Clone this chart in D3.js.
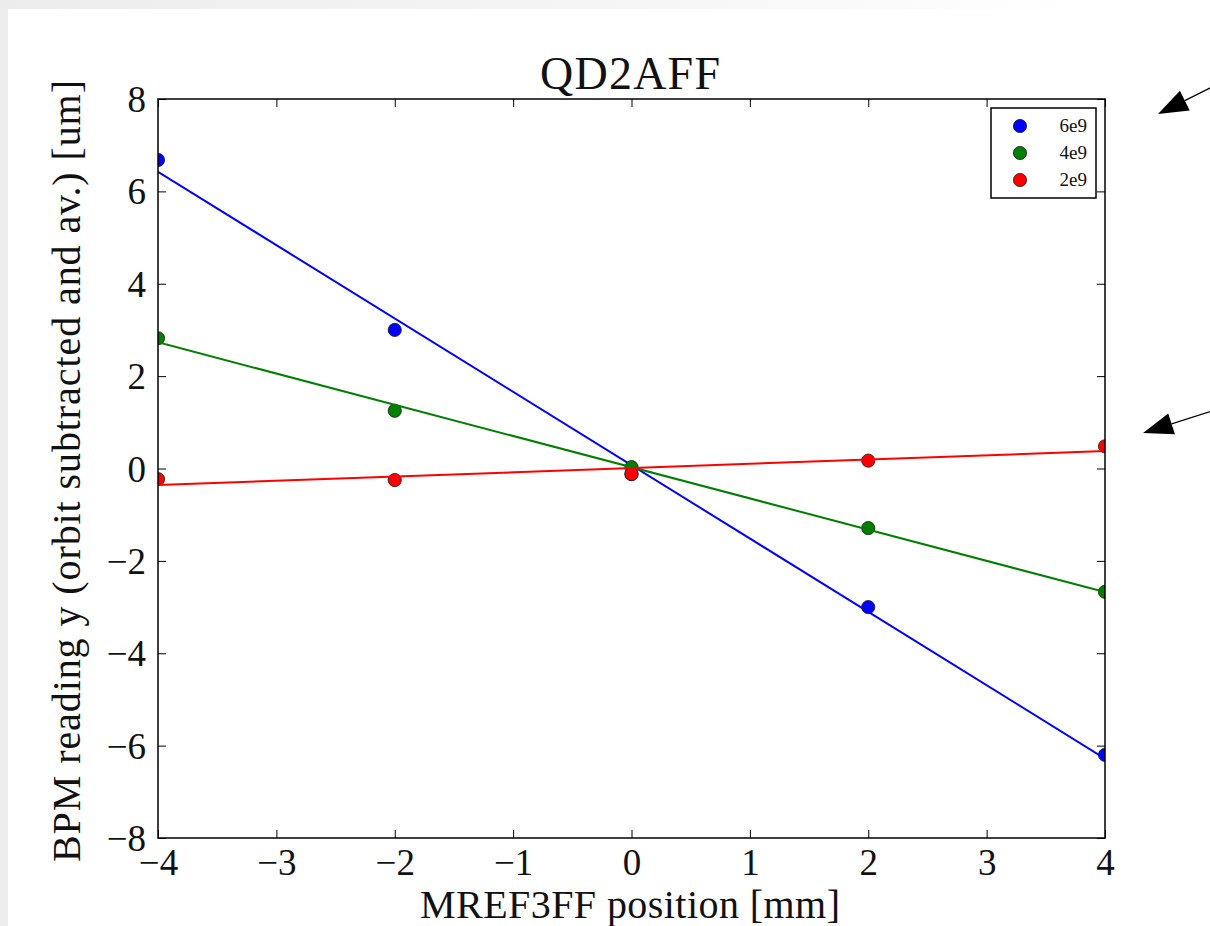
<!DOCTYPE html>
<html>
<head>
<meta charset="utf-8">
<script src="https://cdn.jsdelivr.net/npm/d3@7"></script>
<style>
  html, body { margin: 0; padding: 0; background: #ededed; }
  svg { display: block; }
  text { font-family: "Liberation Serif", "DejaVu Serif", serif; fill: #111; }
</style>
</head>
<body>
<svg id="chart" width="1210" height="926"></svg>
<script>
// Scan positions of the corrector magnet [mm]
const positions = [-4, -2, 0, 2, 4];
// BPM y reading per bunch charge [um]
const series6e9 = [6.68, 3.0, -0.12, -3.0, -6.2];
const series4e9 = [2.82, 1.25, 0.03, -1.29, -2.67];
const series2e9 = [-0.23, -0.25, -0.12, 0.17, 0.48];
const seriesNames = ["6e9", "4e9", "2e9"];
const seriesColors = ["#0000ff", "#007f00", "#ff0000"];
const xTicks = [-4, -3, -2, -1, 0, 1, 2, 3, 4];
const yTicks = [-8, -6, -4, -2, 0, 2, 4, 6, 8];

const svg = d3.select("#chart");
const W = 1210, H = 926;
const M = { left: 158, right: 1105, top: 99, bottom: 838 };

// page panel with a soft grey margin
const defs = svg.append("defs");
const grad = defs.append("linearGradient").attr("id", "topfade").attr("x1", 0).attr("x2", 1).attr("y1", 0).attr("y2", 0);
grad.append("stop").attr("offset", "0%").attr("stop-color", "#ececec");
grad.append("stop").attr("offset", "55%").attr("stop-color", "#f6f6f6");
grad.append("stop").attr("offset", "90%").attr("stop-color", "#ffffff");
svg.append("rect").attr("x", 0).attr("y", 0).attr("width", W).attr("height", 9).attr("fill", "url(#topfade)");
svg.append("rect").attr("x", 8).attr("y", 9).attr("width", W - 8).attr("height", H - 9).attr("fill", "#fff");

const x = d3.scaleLinear().domain([-4, 4]).range([M.left, M.right]);
const y = d3.scaleLinear().domain([-8, 8]).range([M.bottom, M.top]);

defs.append("clipPath").attr("id", "plotclip")
  .append("rect").attr("x", M.left).attr("y", M.top)
  .attr("width", M.right - M.left).attr("height", M.bottom - M.top);

// least-squares line through each series
function fit(ys) {
  const n = positions.length;
  const mx = d3.mean(positions), my = d3.mean(ys);
  let sxy = 0, sxx = 0;
  for (let i = 0; i < n; i++) {
    sxy += (positions[i] - mx) * (ys[i] - my);
    sxx += (positions[i] - mx) ** 2;
  }
  const b = sxy / sxx;
  return { slope: b, intercept: my - b * mx };
}

const plot = svg.append("g").attr("clip-path", "url(#plotclip)");
const allSeries = [series6e9, series4e9, series2e9];
allSeries.forEach((ys, k) => {
  const col = seriesColors[k];
  const pts = positions.map((p, i) => ({ x: p, y: ys[i] }));
  plot.append("g").selectAll("circle").data(pts).enter().append("circle")
    .attr("cx", d => x(d.x)).attr("cy", d => y(d.y)).attr("r", 6.6)
    .attr("fill", col).attr("stroke", "#1a1a1a").attr("stroke-width", 0.8);
  const f = fit(ys);
  const line = d3.line().x(d => x(d)).y(d => y(f.intercept + f.slope * d));
  plot.append("path").datum([-4, 4]).attr("d", line)
    .attr("fill", "none").attr("stroke", col).attr("stroke-width", 2);
});

// frame
svg.append("rect").attr("x", M.left).attr("y", M.top)
  .attr("width", M.right - M.left).attr("height", M.bottom - M.top)
  .attr("fill", "none").attr("stroke", "#000").attr("stroke-width", 1.5);

const fmt = d => (d < 0 ? "\u2212" + Math.abs(d) : String(d));
const tickLen = 8;

// ticks on all four sides, pointing inward
const xb = svg.append("g").attr("transform", `translate(0,${M.bottom})`)
  .call(d3.axisBottom(x).tickValues(xTicks).tickSizeInner(-tickLen).tickSizeOuter(0).tickPadding(12).tickFormat(fmt));
const xt = svg.append("g").attr("transform", `translate(0,${M.top})`)
  .call(d3.axisTop(x).tickValues(xTicks).tickSizeInner(-tickLen).tickSizeOuter(0).tickFormat(""));
const yl = svg.append("g").attr("transform", `translate(${M.left},0)`)
  .call(d3.axisLeft(y).tickValues(yTicks).tickSizeInner(-tickLen).tickSizeOuter(0).tickPadding(12).tickFormat(fmt));
const yr = svg.append("g").attr("transform", `translate(${M.right},0)`)
  .call(d3.axisRight(y).tickValues(yTicks).tickSizeInner(-tickLen).tickSizeOuter(0).tickFormat(""));
[xb, xt, yl, yr].forEach(g => {
  g.select(".domain").remove();
  g.selectAll(".tick line").attr("stroke", "#000").attr("stroke-width", 1);
  g.selectAll("text").style("font-family", '"Liberation Serif", serif').style("font-size", "37px").attr("fill", "#111");
});
xb.selectAll("text").attr("dy", "0.68em");
yl.selectAll("text").attr("dy", "0.34em");

// title and axis labels
svg.append("text").attr("x", 630).attr("y", 89)
  .attr("text-anchor", "middle").style("font-size", "46px")
  .attr("textLength", 180).attr("lengthAdjust", "spacing").text("QD2AFF");
svg.append("text").attr("x", 630).attr("y", 918)
  .attr("text-anchor", "middle").style("font-size", "40px")
  .attr("textLength", 420).attr("lengthAdjust", "spacing").text("MREF3FF position [mm]");
svg.append("text").attr("transform", `translate(80,471) rotate(-90)`)
  .attr("text-anchor", "middle").style("font-size", "40px")
  .attr("textLength", 782).attr("lengthAdjust", "spacing")
  .text("BPM reading y (orbit subtracted and av.) [um]");

// legend
const lg = svg.append("g");
lg.append("rect").attr("x", 991).attr("y", 108).attr("width", 105).attr("height", 90)
  .attr("fill", "#fff").attr("stroke", "#000").attr("stroke-width", 1.5);
seriesNames.forEach((nm, i) => {
  const cy = 126 + i * 27;
  lg.append("circle").attr("cx", 1020).attr("cy", cy).attr("r", 6.6)
    .attr("fill", seriesColors[i]).attr("stroke", "#1a1a1a").attr("stroke-width", 0.8);
  lg.append("text").attr("x", 1087).attr("y", cy + 6).attr("text-anchor", "end")
    .style("font-size", "19px").text(nm);
});

// annotation arrows
function arrow(x1, y1, x2, y2) {
  const ang = Math.atan2(y2 - y1, x2 - x1);
  const L = 30, Wd = 11;
  const bx = x2 - L * Math.cos(ang), by = y2 - L * Math.sin(ang);
  const px = -Math.sin(ang), py = Math.cos(ang);
  svg.append("line").attr("x1", x1).attr("y1", y1).attr("x2", bx).attr("y2", by)
    .attr("stroke", "#000").attr("stroke-width", 1.3);
  svg.append("path")
    .attr("d", `M${x2},${y2} L${bx + px * Wd},${by + py * Wd} L${bx - px * Wd},${by - py * Wd} Z`)
    .attr("fill", "#000");
}
arrow(1212, 87, 1158, 114);
arrow(1212, 411, 1143, 433);
</script>
</body>
</html>
